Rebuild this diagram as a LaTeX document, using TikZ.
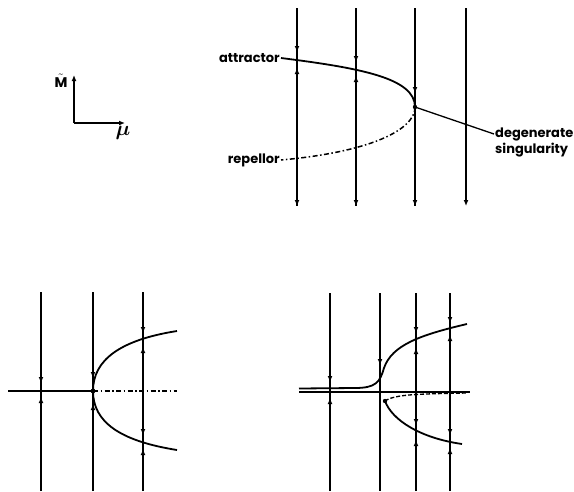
\documentclass[tikz,border=0pt]{standalone}
\usepackage{fontspec}
\setmainfont{Poppins}
\usetikzlibrary{arrows.meta}

\begin{document}
\begin{tikzpicture}[x=1pt, y=-1pt,
    field/.style={line width=1.3pt},
    flow/.style={line width=1.3pt, -{Latex[length=6pt,width=5pt]}},
    branch/.style={line width=1.8pt},
    repel/.style={line width=1.5pt, dash pattern=on 5pt off 2.5pt on 1.5pt off 2.5pt},
    lbl/.style={font=\fontsize{13}{15}\selectfont\bfseries, inner sep=1pt}]
  \useasboundingbox (0,0) rectangle (574,491);

  % Axes icon
  \coordinate (orig) at (74,123);
  \draw[line width=1.8pt, -{Latex[length=6pt,width=5pt]}] (orig) -- (74,75);
  \draw[line width=1.8pt, -{Latex[length=6pt,width=5pt]}] (orig) -- (125,123);
  \node[font=\fontsize{14}{16}\selectfont, inner sep=0pt] (mlab) at (61,81) {$\tilde{\textbf{M}}$};
  \node[font=\fontsize{20}{22}\selectfont\boldmath, inner sep=0pt] (mulab) at (123,133) {$\mu$};

  % Top panel: fold with degenerate singularity
  \draw[field] (297,8) -- (297,206);
  \draw[field] (356,8) -- (356,206);
  \draw[field] (415,8) -- (415,206);
  \draw[flow] (297,8) -- (297,52);
  \draw[flow] (297,160) -- (297,68);
  \draw[flow] (297,160) -- (297,206);
  \draw[flow] (356,8) -- (356,62);
  \draw[flow] (356,154) -- (356,76);
  \draw[flow] (356,154) -- (356,206);
  \draw[flow] (415,8) -- (415,93);
  \draw[flow] (415,107) -- (415,206);
  \draw[flow] (466,8) -- (466,206);

  \node[lbl, anchor=east] (attr) at (281,58) {attractor};
  \node[lbl, anchor=east] (rep) at (281,160) {repellor};
  \coordinate (cusp) at (415,107);
  \draw[branch] (attr.east) .. controls (360,68) and (415,78) .. (cusp);
  \draw[repel] (cusp) .. controls (415,130) and (370,152) .. (rep.east);
  \fill (cusp) circle (2.2pt);

  \node[lbl, anchor=west] (deg) at (494,134) {degenerate};
  \node[lbl, anchor=north west] (singl) at (deg.south west) {singularity};
  \draw[line width=1.3pt] (cusp) -- (deg.west);

  % Bottom left: symmetric pitchfork
  \begin{scope}[shift={(0,240)}]
    \draw[field] (41,52) -- (41,251);
    \draw[field] (93,52) -- (93,251);
    \draw[field] (143,52) -- (143,251);
    \draw[flow] (41,52) -- (41,143);
    \draw[flow] (41,251) -- (41,157);
    \draw[flow] (93,52) -- (93,138);
    \draw[flow] (93,251) -- (93,164);
    \draw[flow] (143,52) -- (143,93);
    \draw[flow] (143,151) -- (143,107);
    \draw[flow] (143,151) -- (143,195);
    \draw[flow] (143,251) -- (143,209);

    \coordinate (pf) at (93,151);
    \draw[branch] (8,151) -- (pf);
    \draw[repel] (pf) -- (177,151);
    \draw[branch] (pf) .. controls (93,120) and (120,100) .. (177,91);
    \draw[branch] (pf) .. controls (93,182) and (120,201) .. (177,210);
    \fill (pf) circle (2.4pt);
  \end{scope}

  % Bottom right: perturbed pitchfork
  \begin{scope}[shift={(280,240)}]
    \draw[field] (50,53) -- (50,251);
    \draw[field] (100,53) -- (100,251);
    \draw[field] (136,53) -- (136,251);
    \draw[field] (170,53) -- (170,251);
    \draw[flow] (50,53) -- (50,142);
    \draw[flow] (50,251) -- (50,158);
    \draw[flow] (100,53) -- (100,125);
    \draw[flow] (136,53) -- (136,93);
    \draw[flow] (136,152) -- (136,108);
    \draw[flow] (136,152) -- (136,185);
    \draw[flow] (136,251) -- (136,200);
    \draw[flow] (170,53) -- (170,83);
    \draw[flow] (170,152) -- (170,95);
    \draw[flow] (170,152) -- (170,195);
    \draw[flow] (170,251) -- (170,208);

    \draw[branch] (19,152) -- (190,152);
    \draw[branch] (19,148.5) -- (75,148) .. controls (96,148) and (100,142) .. (104,128)
      .. controls (112,105) and (140,95) .. (187,84);
    \coordinate (tip) at (105,161);
    \draw[line width=1.3pt, dash pattern=on 4pt off 2pt] (tip) .. controls (115,154) and (140,154) .. (187,153);
    \draw[branch] (tip) .. controls (112,180) and (140,198) .. (182,204);
    \fill (tip) circle (2.2pt);
  \end{scope}
\end{tikzpicture}
\end{document}
